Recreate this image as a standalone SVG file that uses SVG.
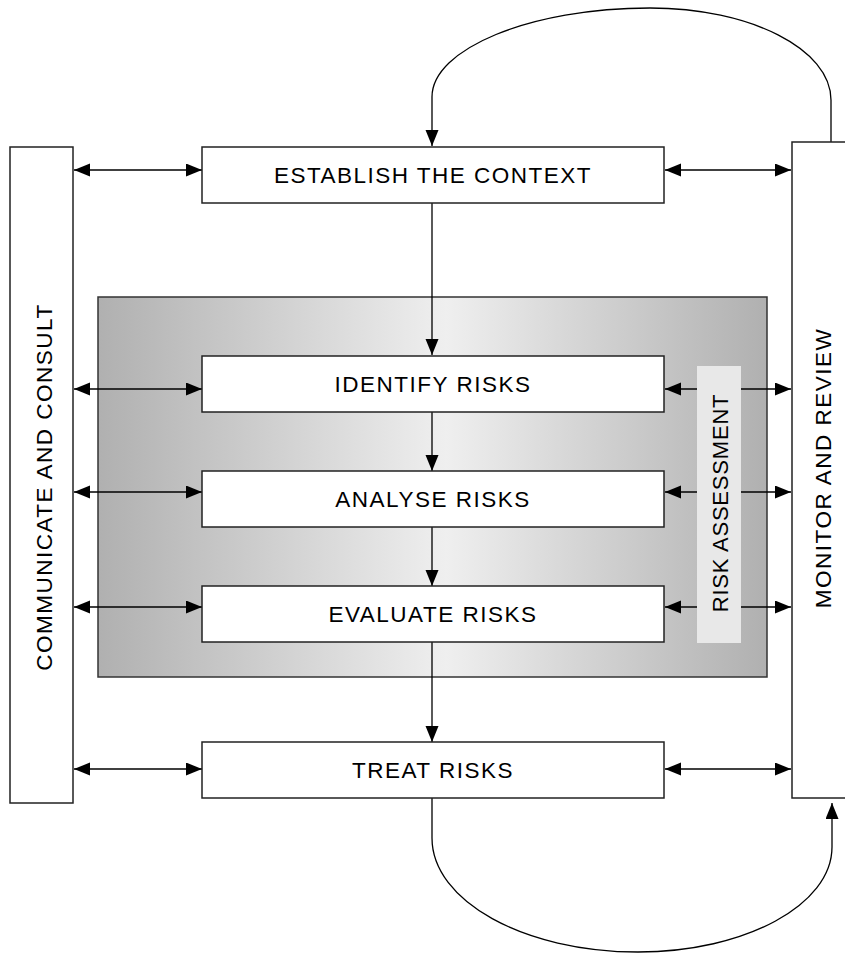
<svg xmlns="http://www.w3.org/2000/svg" width="845" height="954" viewBox="0 0 845 954">
<defs>
<linearGradient id="g" x1="0" y1="0" x2="1" y2="0">
<stop offset="0" stop-color="#b0b0b0"/>
<stop offset="0.52" stop-color="#efefef"/>
<stop offset="1" stop-color="#b0b0b0"/>
</linearGradient>
<marker id="ah" markerUnits="userSpaceOnUse" markerWidth="17" markerHeight="14" refX="16" refY="6.5" orient="auto-start-reverse">
<path d="M0,0 L16,6.5 L0,13 z" fill="#000"/>
</marker>
</defs>
<style>
.box{fill:#fff;stroke:#222;stroke-width:1.5}
.t{font-family:"Liberation Sans",Arial,sans-serif;font-size:22.5px;letter-spacing:1.5px;fill:#000;text-anchor:middle}
.c{fill:none;stroke:#000;stroke-width:1.3}
</style>
<rect x="0" y="0" width="845" height="954" fill="#fff"/>
<g id="risk-assessment-panel">
<rect x="98" y="297" width="669" height="380" fill="url(#g)" stroke="#333" stroke-width="1.5"/>
</g>
<g id="connectors" class="c">
<path d="M831,142 L831,100 C831,49 750,8 650,8 C530,8 432,49 432,97 L432,146" marker-end="url(#ah)"/>
<path d="M432,798 L432,838 C432,901 524,952 638,952 C745,952 832,905 832,847 L832,803" marker-end="url(#ah)"/>
<line x1="432" y1="203" x2="432" y2="355" marker-end="url(#ah)"/>
<line x1="432" y1="412" x2="432" y2="471" marker-end="url(#ah)"/>
<line x1="432" y1="527" x2="432" y2="586" marker-end="url(#ah)"/>
<line x1="432" y1="642" x2="432" y2="742" marker-end="url(#ah)"/>
<line x1="74" y1="170" x2="202" y2="170" marker-start="url(#ah)" marker-end="url(#ah)"/>
<line x1="74" y1="389" x2="202" y2="389" marker-start="url(#ah)" marker-end="url(#ah)"/>
<line x1="74" y1="492" x2="202" y2="492" marker-start="url(#ah)" marker-end="url(#ah)"/>
<line x1="74" y1="607" x2="202" y2="607" marker-start="url(#ah)" marker-end="url(#ah)"/>
<line x1="74" y1="769" x2="202" y2="769" marker-start="url(#ah)" marker-end="url(#ah)"/>
<line x1="665" y1="170" x2="791" y2="170" marker-start="url(#ah)" marker-end="url(#ah)"/>
<line x1="665" y1="389" x2="791" y2="389" marker-start="url(#ah)" marker-end="url(#ah)"/>
<line x1="665" y1="492" x2="791" y2="492" marker-start="url(#ah)" marker-end="url(#ah)"/>
<line x1="665" y1="607" x2="791" y2="607" marker-start="url(#ah)" marker-end="url(#ah)"/>
<line x1="665" y1="769" x2="791" y2="769" marker-start="url(#ah)" marker-end="url(#ah)"/>
</g>
<g id="risk-assessment-label">
<rect x="697" y="366" width="44" height="277" fill="#e8e8e8"/>
<text class="t" transform="translate(728,503) rotate(-90)" style="font-size:22px;letter-spacing:0.8px">RISK ASSESSMENT</text>
</g>
<g id="communicate">
<rect class="box" x="10" y="147" width="63" height="656"/>
<text class="t" transform="translate(52,487) rotate(-90)">COMMUNICATE AND CONSULT</text>
</g>
<g id="monitor">
<rect class="box" x="792" y="142" width="62" height="656"/>
<text class="t" transform="translate(831,468) rotate(-90)">MONITOR AND REVIEW</text>
</g>
<g id="establish">
<rect class="box" x="202" y="147" width="462" height="56"/>
<text class="t" x="433" y="183">ESTABLISH THE CONTEXT</text>
</g>
<g id="identify">
<rect class="box" x="202" y="356" width="462" height="56"/>
<text class="t" x="433" y="392">IDENTIFY RISKS</text>
</g>
<g id="analyse">
<rect class="box" x="202" y="471" width="462" height="56"/>
<text class="t" x="433" y="507">ANALYSE RISKS</text>
</g>
<g id="evaluate">
<rect class="box" x="202" y="586" width="462" height="56"/>
<text class="t" x="433" y="622">EVALUATE RISKS</text>
</g>
<g id="treat">
<rect class="box" x="202" y="742" width="462" height="56"/>
<text class="t" x="433" y="778">TREAT RISKS</text>
</g>
</svg>
